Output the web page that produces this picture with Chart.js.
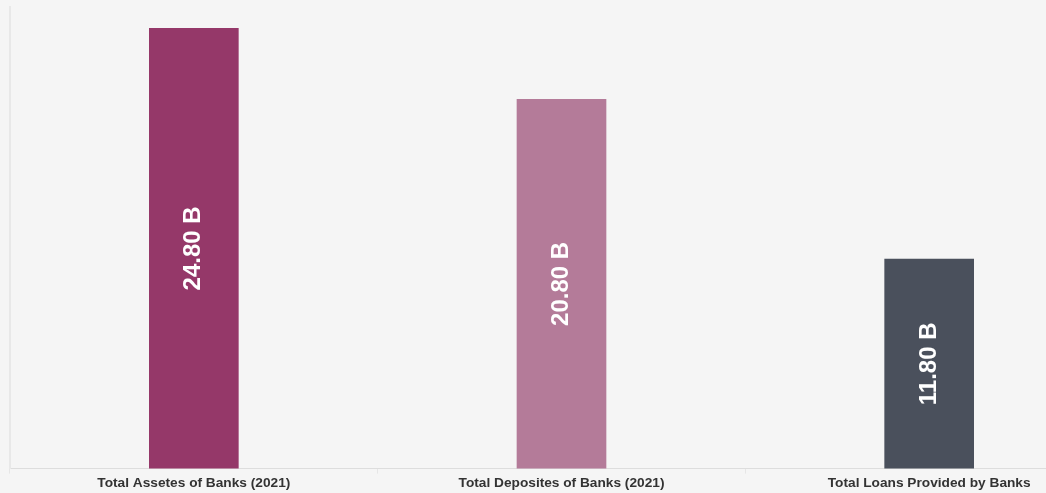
<!DOCTYPE html>
<html>
<head>
<meta charset="utf-8">
<script src="https://cdn.jsdelivr.net/npm/chart.js@4/dist/chart.umd.min.js"></script>
<style>
  html, body { margin: 0; padding: 0; background: #f5f5f5; overflow: hidden; }
  #wrap { position: relative; width: 1113px; height: 493px; }
</style>
</head>
<body>
<div id="wrap"><canvas id="bankCanvas"></canvas></div>
<script>
var categories = ['Total Assetes of Banks (2021)', 'Total Deposites of Banks (2021)', 'Total Loans Provided by Banks'];
var values = [24.80, 20.80, 11.80];
var barColors = ['#953869', '#b47b99', '#4a505c'];

// white rotated value text in the middle of each bar
var barValueText = {
    id: 'barValueText',
    afterDatasetsDraw: function(chart){
        var ctx = chart.ctx;
        var meta = chart.getDatasetMeta(0);
        meta.data.forEach(function(bar, i){
            var mid = (bar.y + bar.base) / 2;
            ctx.save();
            ctx.translate(bar.x, mid);
            ctx.rotate(-Math.PI / 2);
            ctx.font = 'bold 24px "Liberation Sans", Arial, sans-serif';
            ctx.fillStyle = '#ffffff';
            ctx.textAlign = 'center';
            ctx.textBaseline = 'middle';
            ctx.fillText(values[i].toFixed(2) + ' B', 0, 0);
            ctx.restore();
        });
    }
};

var ctx = document.getElementById('bankCanvas').getContext('2d');
var myBarChart = new Chart(ctx, {
    type: 'bar',
    data: {
        labels: categories,
        datasets: [{
            data: values,
            backgroundColor: barColors,
            barThickness: 89
        }]
    },
    options: {
        responsive: true,
        maintainAspectRatio: false,
        animation: false,
        layout: { padding: { left: 2, right: 0, top: 7, bottom: 1 } },
        plugins: {
            legend: { display: false },
            tooltip: { enabled: false }
        },
        scales: {
            x: {
                grid: {
                    display: true,
                    drawOnChartArea: false,
                    offset: true,
                    tickLength: 5,
                    color: '#e6e6e6'
                },
                border: { display: true, color: '#dddddd', dash: [2, 2] },
                ticks: {
                    color: '#333333',
                    padding: 1,
                    maxRotation: 0,
                    autoSkip: false,
                    font: { family: '"Liberation Sans", Arial, sans-serif', size: 13.7, weight: 'bold' }
                }
            },
            y: {
                min: 0,
                max: 26,
                grid: { display: false },
                border: { display: true, color: '#e8e8e8', width: 2 },
                ticks: { display: false }
            }
        }
    },
    plugins: [barValueText]
});
</script>
</body>
</html>
